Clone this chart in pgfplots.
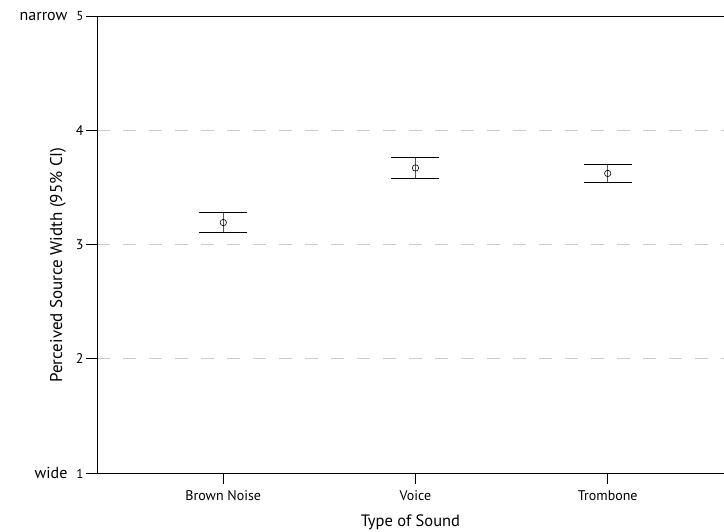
\documentclass[border=0pt]{standalone}
\usepackage{pgfplots}
\pgfplotsset{compat=1.18}
\usepackage{fontspec}
\setmainfont{PT Sans}
\definecolor{gridgray}{HTML}{CCCCCC}
\definecolor{bargray}{HTML}{555555}
\begin{document}
\begin{tikzpicture}
\begin{axis}[
  at={(0,0)}, anchor=south west,
  scale only axis, width=627pt, height=457pt,
  xmin=0.343, xmax=3.605, ymin=1, ymax=5,
  axis x line*=box, axis y line*=left,
  xtick={1,2,3}, xticklabels={Brown Noise,Voice,Trombone},
  xtick pos=bottom,
  ytick={1,2,3,4,5},
  yticklabels={{\fontsize{16}{16}\selectfont wide}\hspace{9pt}{\fontsize{13}{13}\selectfont 1},2,3,4,{\fontsize{16}{16}\selectfont narrow}\hspace{9pt}{\fontsize{13}{13}\selectfont 5}},
  tick align=outside, major tick length=11pt,
  tick style={black, line width=0.6pt},
  axis line style={black, line width=0.9pt},
  /pgf/number format/assume math mode=true,
  ticklabel style={font=\fontsize{14}{14}\selectfont},
  yticklabel style={xshift=1pt},
  xticklabel style={yshift=-3pt},
  ymajorgrids, grid style={gridgray, dash pattern=on 13pt off 13pt, line width=0.8pt},
  xlabel={Type of Sound}, ylabel={Perceived Source Width (95\% CI)},
  xlabel style={font=\fontsize{16.5}{16.5}\selectfont, yshift=-7pt},
  ylabel style={font=\fontsize{17}{17}\selectfont, at={(axis description cs:-0.0622,0.455)}, anchor=center, rotate=0},
  clip=false,
]
\addplot[black, only marks, mark=o, mark size=3.2pt, mark options={line width=0.6pt},
  error bars/.cd, y dir=both, y explicit, error mark=|,
  error bar style={line width=0.8pt, bargray},
  error mark options={black, mark size=24pt, line width=0.9pt}]
  coordinates {
  (1,3.192) +- (0,0.09)
  (2,3.67) +- (0,0.096)
  (3,3.622) +- (0,0.081)
};
\end{axis}
\pgfresetboundingbox
\useasboundingbox (-97pt,-58pt) rectangle (627pt,473pt);
\end{tikzpicture}
\end{document}
